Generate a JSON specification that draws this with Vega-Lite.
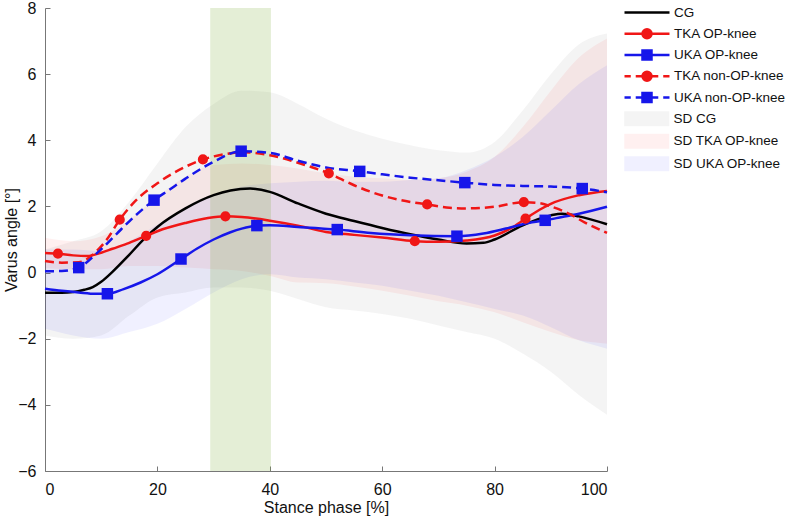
{
  "$schema": "https://vega.github.io/schema/vega-lite/v6.json",
  "width": 562,
  "height": 463,
  "autosize": {"type": "none"},
  "padding": {"left": 45, "top": 8, "right": 181, "bottom": 47},
  "background": "white",
  "config": {
    "view": {"stroke": null},
    "font": "Liberation Sans",
    "axis": {
      "grid": false,
      "domainColor": "#777777",
      "tickColor": "#777777",
      "tickSize": -5,
      "labelColor": "#111111",
      "titleColor": "#111111",
      "labelFont": "Liberation Sans",
      "titleFont": "Liberation Sans",
      "labelFontSize": 16,
      "titleFontSize": 16,
      "titleFontWeight": "normal"
    },
    "legend": {
      "labelFont": "Liberation Sans",
      "labelFontSize": 13.5,
      "labelColor": "#111111"
    }
  },
  "datasets": {
    "lines": [
      {"s": "CG", "x": 0, "y": -0.61, "m": 0},
      {"s": "CG", "x": 3, "y": -0.61, "m": 0},
      {"s": "CG", "x": 5, "y": -0.59, "m": 0},
      {"s": "CG", "x": 7, "y": -0.52, "m": 0},
      {"s": "CG", "x": 8.5, "y": -0.44, "m": 0},
      {"s": "CG", "x": 10, "y": -0.28, "m": 0},
      {"s": "CG", "x": 12, "y": 0.02, "m": 0},
      {"s": "CG", "x": 14.5, "y": 0.45, "m": 0},
      {"s": "CG", "x": 18, "y": 1.08, "m": 0},
      {"s": "CG", "x": 20, "y": 1.38, "m": 0},
      {"s": "CG", "x": 25, "y": 1.94, "m": 0},
      {"s": "CG", "x": 30, "y": 2.34, "m": 0},
      {"s": "CG", "x": 33, "y": 2.48, "m": 0},
      {"s": "CG", "x": 36.5, "y": 2.54, "m": 0},
      {"s": "CG", "x": 40, "y": 2.44, "m": 0},
      {"s": "CG", "x": 45, "y": 2.09, "m": 0},
      {"s": "CG", "x": 50, "y": 1.78, "m": 0},
      {"s": "CG", "x": 55, "y": 1.56, "m": 0},
      {"s": "CG", "x": 60, "y": 1.35, "m": 0},
      {"s": "CG", "x": 65, "y": 1.16, "m": 0},
      {"s": "CG", "x": 70, "y": 1.0, "m": 0},
      {"s": "CG", "x": 75, "y": 0.88, "m": 0},
      {"s": "CG", "x": 78, "y": 0.9, "m": 0},
      {"s": "CG", "x": 80, "y": 1.0, "m": 0},
      {"s": "CG", "x": 85, "y": 1.43, "m": 0},
      {"s": "CG", "x": 90, "y": 1.73, "m": 0},
      {"s": "CG", "x": 92, "y": 1.78, "m": 0},
      {"s": "CG", "x": 95, "y": 1.7, "m": 0},
      {"s": "CG", "x": 100, "y": 1.46, "m": 0},

      {"s": "TKA OP-knee", "x": 0, "y": 0.59, "m": 0},
      {"s": "TKA OP-knee", "x": 2.3, "y": 0.57, "m": 1},
      {"s": "TKA OP-knee", "x": 5, "y": 0.52, "m": 0},
      {"s": "TKA OP-knee", "x": 7.5, "y": 0.5, "m": 0},
      {"s": "TKA OP-knee", "x": 10, "y": 0.6, "m": 0},
      {"s": "TKA OP-knee", "x": 12, "y": 0.72, "m": 0},
      {"s": "TKA OP-knee", "x": 15, "y": 0.9, "m": 0},
      {"s": "TKA OP-knee", "x": 18, "y": 1.11, "m": 1},
      {"s": "TKA OP-knee", "x": 20, "y": 1.25, "m": 0},
      {"s": "TKA OP-knee", "x": 25, "y": 1.5, "m": 0},
      {"s": "TKA OP-knee", "x": 29, "y": 1.65, "m": 0},
      {"s": "TKA OP-knee", "x": 32.1, "y": 1.7, "m": 1},
      {"s": "TKA OP-knee", "x": 35, "y": 1.68, "m": 0},
      {"s": "TKA OP-knee", "x": 40, "y": 1.57, "m": 0},
      {"s": "TKA OP-knee", "x": 45, "y": 1.42, "m": 0},
      {"s": "TKA OP-knee", "x": 50, "y": 1.23, "m": 0},
      {"s": "TKA OP-knee", "x": 55, "y": 1.14, "m": 0},
      {"s": "TKA OP-knee", "x": 60, "y": 1.06, "m": 0},
      {"s": "TKA OP-knee", "x": 65.8, "y": 0.95, "m": 1},
      {"s": "TKA OP-knee", "x": 70, "y": 0.93, "m": 0},
      {"s": "TKA OP-knee", "x": 75, "y": 0.97, "m": 0},
      {"s": "TKA OP-knee", "x": 80, "y": 1.12, "m": 0},
      {"s": "TKA OP-knee", "x": 83, "y": 1.35, "m": 0},
      {"s": "TKA OP-knee", "x": 85.5, "y": 1.63, "m": 1},
      {"s": "TKA OP-knee", "x": 88, "y": 1.9, "m": 0},
      {"s": "TKA OP-knee", "x": 90, "y": 2.08, "m": 0},
      {"s": "TKA OP-knee", "x": 95, "y": 2.34, "m": 0},
      {"s": "TKA OP-knee", "x": 100, "y": 2.47, "m": 0},

      {"s": "UKA OP-knee", "x": 0, "y": -0.49, "m": 0},
      {"s": "UKA OP-knee", "x": 3, "y": -0.55, "m": 0},
      {"s": "UKA OP-knee", "x": 6, "y": -0.6, "m": 0},
      {"s": "UKA OP-knee", "x": 9, "y": -0.64, "m": 0},
      {"s": "UKA OP-knee", "x": 11.1, "y": -0.64, "m": 1},
      {"s": "UKA OP-knee", "x": 14, "y": -0.5, "m": 0},
      {"s": "UKA OP-knee", "x": 17, "y": -0.3, "m": 0},
      {"s": "UKA OP-knee", "x": 20, "y": -0.05, "m": 0},
      {"s": "UKA OP-knee", "x": 24.2, "y": 0.41, "m": 1},
      {"s": "UKA OP-knee", "x": 27, "y": 0.72, "m": 0},
      {"s": "UKA OP-knee", "x": 30, "y": 1.0, "m": 0},
      {"s": "UKA OP-knee", "x": 33, "y": 1.22, "m": 0},
      {"s": "UKA OP-knee", "x": 35, "y": 1.33, "m": 0},
      {"s": "UKA OP-knee", "x": 37.7, "y": 1.42, "m": 1},
      {"s": "UKA OP-knee", "x": 40, "y": 1.43, "m": 0},
      {"s": "UKA OP-knee", "x": 45, "y": 1.38, "m": 0},
      {"s": "UKA OP-knee", "x": 52, "y": 1.3, "m": 1},
      {"s": "UKA OP-knee", "x": 58, "y": 1.2, "m": 0},
      {"s": "UKA OP-knee", "x": 65, "y": 1.13, "m": 0},
      {"s": "UKA OP-knee", "x": 73.3, "y": 1.1, "m": 1},
      {"s": "UKA OP-knee", "x": 78, "y": 1.18, "m": 0},
      {"s": "UKA OP-knee", "x": 82, "y": 1.33, "m": 0},
      {"s": "UKA OP-knee", "x": 86, "y": 1.5, "m": 0},
      {"s": "UKA OP-knee", "x": 89, "y": 1.58, "m": 1},
      {"s": "UKA OP-knee", "x": 92, "y": 1.68, "m": 0},
      {"s": "UKA OP-knee", "x": 95, "y": 1.78, "m": 0},
      {"s": "UKA OP-knee", "x": 100, "y": 1.99, "m": 0},

      {"s": "TKA non-OP-knee", "x": 0, "y": 0.35, "m": 0},
      {"s": "TKA non-OP-knee", "x": 3, "y": 0.3, "m": 0},
      {"s": "TKA non-OP-knee", "x": 6, "y": 0.31, "m": 0},
      {"s": "TKA non-OP-knee", "x": 9, "y": 0.62, "m": 0},
      {"s": "TKA non-OP-knee", "x": 11, "y": 1.0, "m": 0},
      {"s": "TKA non-OP-knee", "x": 13.3, "y": 1.6, "m": 1},
      {"s": "TKA non-OP-knee", "x": 16, "y": 2.15, "m": 0},
      {"s": "TKA non-OP-knee", "x": 20, "y": 2.7, "m": 0},
      {"s": "TKA non-OP-knee", "x": 25, "y": 3.2, "m": 0},
      {"s": "TKA non-OP-knee", "x": 28.1, "y": 3.42, "m": 1},
      {"s": "TKA non-OP-knee", "x": 32, "y": 3.58, "m": 0},
      {"s": "TKA non-OP-knee", "x": 35, "y": 3.64, "m": 0},
      {"s": "TKA non-OP-knee", "x": 40, "y": 3.55, "m": 0},
      {"s": "TKA non-OP-knee", "x": 45, "y": 3.32, "m": 0},
      {"s": "TKA non-OP-knee", "x": 50.5, "y": 3.0, "m": 1},
      {"s": "TKA non-OP-knee", "x": 55, "y": 2.64, "m": 0},
      {"s": "TKA non-OP-knee", "x": 60, "y": 2.33, "m": 0},
      {"s": "TKA non-OP-knee", "x": 63, "y": 2.2, "m": 0},
      {"s": "TKA non-OP-knee", "x": 68, "y": 2.06, "m": 1},
      {"s": "TKA non-OP-knee", "x": 72, "y": 1.96, "m": 0},
      {"s": "TKA non-OP-knee", "x": 75, "y": 1.94, "m": 0},
      {"s": "TKA non-OP-knee", "x": 80, "y": 1.99, "m": 0},
      {"s": "TKA non-OP-knee", "x": 85.2, "y": 2.13, "m": 1},
      {"s": "TKA non-OP-knee", "x": 88, "y": 2.1, "m": 0},
      {"s": "TKA non-OP-knee", "x": 90, "y": 2.0, "m": 0},
      {"s": "TKA non-OP-knee", "x": 93, "y": 1.8, "m": 0},
      {"s": "TKA non-OP-knee", "x": 96, "y": 1.52, "m": 0},
      {"s": "TKA non-OP-knee", "x": 100, "y": 1.2, "m": 0},

      {"s": "UKA non-OP-knee", "x": 0, "y": 0.04, "m": 0},
      {"s": "UKA non-OP-knee", "x": 3, "y": 0.05, "m": 0},
      {"s": "UKA non-OP-knee", "x": 6, "y": 0.15, "m": 1},
      {"s": "UKA non-OP-knee", "x": 9, "y": 0.55, "m": 0},
      {"s": "UKA non-OP-knee", "x": 12.8, "y": 1.18, "m": 0},
      {"s": "UKA non-OP-knee", "x": 15, "y": 1.55, "m": 0},
      {"s": "UKA non-OP-knee", "x": 19.4, "y": 2.19, "m": 1},
      {"s": "UKA non-OP-knee", "x": 22, "y": 2.49, "m": 0},
      {"s": "UKA non-OP-knee", "x": 25, "y": 2.84, "m": 0},
      {"s": "UKA non-OP-knee", "x": 30, "y": 3.35, "m": 0},
      {"s": "UKA non-OP-knee", "x": 34.9, "y": 3.67, "m": 1},
      {"s": "UKA non-OP-knee", "x": 40, "y": 3.62, "m": 0},
      {"s": "UKA non-OP-knee", "x": 45, "y": 3.38, "m": 0},
      {"s": "UKA non-OP-knee", "x": 50, "y": 3.18, "m": 0},
      {"s": "UKA non-OP-knee", "x": 56, "y": 3.06, "m": 1},
      {"s": "UKA non-OP-knee", "x": 60, "y": 2.97, "m": 0},
      {"s": "UKA non-OP-knee", "x": 65, "y": 2.87, "m": 0},
      {"s": "UKA non-OP-knee", "x": 70, "y": 2.79, "m": 0},
      {"s": "UKA non-OP-knee", "x": 74.7, "y": 2.72, "m": 1},
      {"s": "UKA non-OP-knee", "x": 80, "y": 2.65, "m": 0},
      {"s": "UKA non-OP-knee", "x": 85, "y": 2.62, "m": 0},
      {"s": "UKA non-OP-knee", "x": 90, "y": 2.6, "m": 0},
      {"s": "UKA non-OP-knee", "x": 95.6, "y": 2.54, "m": 1},
      {"s": "UKA non-OP-knee", "x": 100, "y": 2.43, "m": 0}
    ],
    "bands": [
      {"b": "SD CG", "x": 0, "lo": -1.9, "hi": 0.7},
      {"b": "SD CG", "x": 5, "lo": -2.0, "hi": 0.95},
      {"b": "SD CG", "x": 10, "lo": -1.9, "hi": 1.25},
      {"b": "SD CG", "x": 15, "lo": -1.3, "hi": 2.15},
      {"b": "SD CG", "x": 20, "lo": -0.75, "hi": 3.3},
      {"b": "SD CG", "x": 25, "lo": -0.6, "hi": 4.4},
      {"b": "SD CG", "x": 30, "lo": -0.45, "hi": 5.1},
      {"b": "SD CG", "x": 35, "lo": -0.45, "hi": 5.5},
      {"b": "SD CG", "x": 40, "lo": -0.55, "hi": 5.45},
      {"b": "SD CG", "x": 45, "lo": -0.8, "hi": 5.1},
      {"b": "SD CG", "x": 50, "lo": -1.05, "hi": 4.65},
      {"b": "SD CG", "x": 55, "lo": -1.15, "hi": 4.3},
      {"b": "SD CG", "x": 60, "lo": -1.25, "hi": 4.05},
      {"b": "SD CG", "x": 65, "lo": -1.4, "hi": 3.85},
      {"b": "SD CG", "x": 70, "lo": -1.6, "hi": 3.7},
      {"b": "SD CG", "x": 75, "lo": -1.8, "hi": 3.63},
      {"b": "SD CG", "x": 80, "lo": -2.0, "hi": 3.95},
      {"b": "SD CG", "x": 85, "lo": -2.45, "hi": 4.9},
      {"b": "SD CG", "x": 90, "lo": -3.0, "hi": 6.0},
      {"b": "SD CG", "x": 95, "lo": -3.7, "hi": 6.9},
      {"b": "SD CG", "x": 100, "lo": -4.3, "hi": 7.23},

      {"b": "SD TKA OP-knee", "x": 0, "lo": 0.13, "hi": 1.05},
      {"b": "SD TKA OP-knee", "x": 5, "lo": 0.1, "hi": 0.95},
      {"b": "SD TKA OP-knee", "x": 10, "lo": 0.1, "hi": 1.1},
      {"b": "SD TKA OP-knee", "x": 15, "lo": 0.2, "hi": 1.6},
      {"b": "SD TKA OP-knee", "x": 20, "lo": 0.2, "hi": 2.3},
      {"b": "SD TKA OP-knee", "x": 25, "lo": 0.15, "hi": 2.9},
      {"b": "SD TKA OP-knee", "x": 30, "lo": 0.1, "hi": 3.25},
      {"b": "SD TKA OP-knee", "x": 35, "lo": 0.05, "hi": 3.3},
      {"b": "SD TKA OP-knee", "x": 40, "lo": -0.1, "hi": 3.25},
      {"b": "SD TKA OP-knee", "x": 45, "lo": -0.3, "hi": 3.15},
      {"b": "SD TKA OP-knee", "x": 50, "lo": -0.32, "hi": 3.0},
      {"b": "SD TKA OP-knee", "x": 55, "lo": -0.42, "hi": 2.9},
      {"b": "SD TKA OP-knee", "x": 60, "lo": -0.55, "hi": 2.85},
      {"b": "SD TKA OP-knee", "x": 65, "lo": -0.7, "hi": 2.8},
      {"b": "SD TKA OP-knee", "x": 70, "lo": -0.87, "hi": 2.85},
      {"b": "SD TKA OP-knee", "x": 75, "lo": -1.0, "hi": 3.05},
      {"b": "SD TKA OP-knee", "x": 80, "lo": -1.2, "hi": 3.5},
      {"b": "SD TKA OP-knee", "x": 85, "lo": -1.5, "hi": 4.4},
      {"b": "SD TKA OP-knee", "x": 90, "lo": -1.8, "hi": 5.5},
      {"b": "SD TKA OP-knee", "x": 95, "lo": -2.05, "hi": 6.5},
      {"b": "SD TKA OP-knee", "x": 100, "lo": -2.15, "hi": 7.08},

      {"b": "SD UKA OP-knee", "x": 0, "lo": -1.7, "hi": 0.7},
      {"b": "SD UKA OP-knee", "x": 5, "lo": -1.9, "hi": 0.7},
      {"b": "SD UKA OP-knee", "x": 10, "lo": -2.0, "hi": 0.65},
      {"b": "SD UKA OP-knee", "x": 15, "lo": -1.8, "hi": 0.95},
      {"b": "SD UKA OP-knee", "x": 20, "lo": -1.55, "hi": 1.45},
      {"b": "SD UKA OP-knee", "x": 25, "lo": -1.1, "hi": 1.95},
      {"b": "SD UKA OP-knee", "x": 30, "lo": -0.6, "hi": 2.35},
      {"b": "SD UKA OP-knee", "x": 35, "lo": -0.2, "hi": 2.6},
      {"b": "SD UKA OP-knee", "x": 40, "lo": -0.05, "hi": 2.7},
      {"b": "SD UKA OP-knee", "x": 45, "lo": -0.15, "hi": 2.75},
      {"b": "SD UKA OP-knee", "x": 50, "lo": -0.2, "hi": 2.78},
      {"b": "SD UKA OP-knee", "x": 55, "lo": -0.3, "hi": 2.75},
      {"b": "SD UKA OP-knee", "x": 60, "lo": -0.4, "hi": 2.75},
      {"b": "SD UKA OP-knee", "x": 65, "lo": -0.55, "hi": 2.8},
      {"b": "SD UKA OP-knee", "x": 70, "lo": -0.7, "hi": 2.85},
      {"b": "SD UKA OP-knee", "x": 75, "lo": -0.9, "hi": 3.1},
      {"b": "SD UKA OP-knee", "x": 80, "lo": -1.1, "hi": 3.5},
      {"b": "SD UKA OP-knee", "x": 85, "lo": -1.3, "hi": 4.1},
      {"b": "SD UKA OP-knee", "x": 90, "lo": -1.65, "hi": 4.9},
      {"b": "SD UKA OP-knee", "x": 95, "lo": -2.05, "hi": 5.7},
      {"b": "SD UKA OP-knee", "x": 100, "lo": -2.3, "hi": 6.27}
    ],
    "phase": [{"x0": 29.4, "x1": 40.2}]
  },
  "layer": [
    {
      "data": {"name": "bands"},
      "mark": {"type": "area", "interpolate": "monotone", "opacity": 0.06},
      "encoding": {
        "x": {"field": "x", "type": "quantitative", "scale": {"domain": [0, 100], "nice": false, "zero": false},
              "axis": {"values": [0, 20, 40, 60, 80, 100], "title": "Stance phase [%]", "labelPadding": 15, "titlePadding": 2}},
        "y": {"field": "lo", "type": "quantitative", "scale": {"domain": [-6, 8], "nice": false, "zero": false},
              "axis": {"values": [-6, -4, -2, 0, 2, 4, 6, 8], "title": "Varus angle [°]", "labelPadding": 14, "titlePadding": -2}},
        "y2": {"field": "hi"},
        "color": {"field": "b", "type": "nominal",
                  "scale": {"domain": ["SD CG", "SD TKA OP-knee", "SD UKA OP-knee"], "range": ["#404040", "#ff0000", "#0000ff"]},
                  "legend": {"title": null, "orient": "none", "legendX": 595, "legendY": 104,
                             "symbolType": "M-4.09,-1.36H4.09V1.36H-4.09Z", "symbolSize": 121, "symbolOpacity": 0.06,
                             "symbolStrokeWidth": 0, "labelOffset": 20, "rowPadding": 6.5}}
      }
    },
    {
      "data": {"name": "phase"},
      "mark": {"type": "rect", "color": "#77ac30", "opacity": 0.2},
      "encoding": {
        "x": {"field": "x0", "type": "quantitative"},
        "x2": {"field": "x1"}
      }
    },
    {
      "mark": {"type": "rule", "color": "#999999", "strokeWidth": 1, "strokeDash": [8, 4]},
      "encoding": {"y": {"datum": 0}}
    },
    {
      "data": {"name": "lines"},
      "transform": [{"filter": "datum.s == 'CG'"}],
      "mark": {"type": "line", "interpolate": "monotone", "strokeWidth": 2.5, "color": "#000000"},
      "encoding": {"x": {"field": "x", "type": "quantitative"}, "y": {"field": "y", "type": "quantitative"}}
    },
    {
      "data": {"name": "lines"},
      "transform": [{"filter": "datum.s == 'TKA OP-knee'"}],
      "mark": {"type": "line", "interpolate": "monotone", "strokeWidth": 2.5, "color": "#f01616"},
      "encoding": {"x": {"field": "x", "type": "quantitative"}, "y": {"field": "y", "type": "quantitative"}}
    },
    {
      "data": {"name": "lines"},
      "transform": [{"filter": "datum.s == 'UKA OP-knee'"}],
      "mark": {"type": "line", "interpolate": "monotone", "strokeWidth": 2.5, "color": "#1616ea"},
      "encoding": {"x": {"field": "x", "type": "quantitative"}, "y": {"field": "y", "type": "quantitative"}}
    },
    {
      "data": {"name": "lines"},
      "transform": [{"filter": "datum.s == 'TKA non-OP-knee'"}],
      "mark": {"type": "line", "interpolate": "monotone", "strokeWidth": 2.5, "color": "#f01616", "strokeDash": [9, 5]},
      "encoding": {"x": {"field": "x", "type": "quantitative"}, "y": {"field": "y", "type": "quantitative"}}
    },
    {
      "data": {"name": "lines"},
      "transform": [{"filter": "datum.s == 'UKA non-OP-knee'"}],
      "mark": {"type": "line", "interpolate": "monotone", "strokeWidth": 2.5, "color": "#1616ea", "strokeDash": [9, 5]},
      "encoding": {"x": {"field": "x", "type": "quantitative"}, "y": {"field": "y", "type": "quantitative"}}
    },
    {
      "data": {"name": "lines"},
      "transform": [{"filter": "datum.m == 1 && indexof(datum.s, 'TKA') == 0"}],
      "mark": {"type": "point", "shape": "circle", "filled": true, "size": 104, "color": "#f01616", "opacity": 1, "strokeWidth": 0},
      "encoding": {"x": {"field": "x", "type": "quantitative"}, "y": {"field": "y", "type": "quantitative"}}
    },
    {
      "data": {"name": "lines"},
      "transform": [{"filter": "datum.m == 1 && indexof(datum.s, 'UKA') == 0"}],
      "mark": {"type": "point", "shape": "square", "filled": true, "size": 132, "color": "#1616ea", "opacity": 1, "strokeWidth": 0},
      "encoding": {"x": {"field": "x", "type": "quantitative"}, "y": {"field": "y", "type": "quantitative"}}
    },
    {
      "data": {"name": "lines"},
      "transform": [{"filter": "datum.m == 2"}],
      "mark": {"type": "point", "filled": true, "size": 121, "strokeWidth": 2.5, "opacity": 1},
      "encoding": {
        "x": {"field": "x", "type": "quantitative"},
        "y": {"field": "y", "type": "quantitative"},
        "fill": {"field": "s", "type": "nominal",
                 "scale": {"domain": ["CG", "TKA OP-knee", "UKA OP-knee", "TKA non-OP-knee", "UKA non-OP-knee"],
                           "range": ["#000000", "#f01616", "#1616ea", "#f01616", "#1616ea"]},
                 "legend": {"title": null, "orient": "none", "legendX": 595, "legendY": -2.5,
                            "symbolSize": 121, "symbolStrokeWidth": 2.5, "labelOffset": 20, "rowPadding": 1.25}},
        "stroke": {"field": "s", "type": "nominal",
                   "scale": {"domain": ["CG", "TKA OP-knee", "UKA OP-knee", "TKA non-OP-knee", "UKA non-OP-knee"],
                             "range": ["#000000", "#f01616", "#1616ea", "#f01616", "#1616ea"]},
                   "legend": {"title": null, "orient": "none", "legendX": 595, "legendY": -2.5,
                              "symbolSize": 121, "symbolStrokeWidth": 2.5, "labelOffset": 20, "rowPadding": 1.25}},
        "shape": {"field": "s", "type": "nominal",
                  "scale": {"domain": ["CG", "TKA OP-knee", "UKA OP-knee", "TKA non-OP-knee", "UKA non-OP-knee"],
                            "range": [
                              "M-4.09,0H4.09M0,-0.82ZM0,0.82Z",
                              "M-4.09,0H4.09M0.82,0A0.82,0.82,0,1,1,-0.82,0A0.82,0.82,0,1,1,0.82,0Z",
                              "M-4.09,0H4.09M-0.82,-0.82H0.82V0.82H-0.82Z",
                              "M-4.09,0H-2.95M-2.05,0H2.05M2.95,0H4.09M0.82,0A0.82,0.82,0,1,1,-0.82,0A0.82,0.82,0,1,1,0.82,0Z",
                              "M-4.09,0H-2.95M-2.05,0H2.05M2.95,0H4.09M-0.82,-0.82H0.82V0.82H-0.82Z"
                            ]},
                  "legend": {"title": null, "orient": "none", "legendX": 595, "legendY": -2.5,
                             "symbolSize": 121, "symbolStrokeWidth": 2.5, "labelOffset": 20, "rowPadding": 1.25}}
      }
    }
  ]
}
